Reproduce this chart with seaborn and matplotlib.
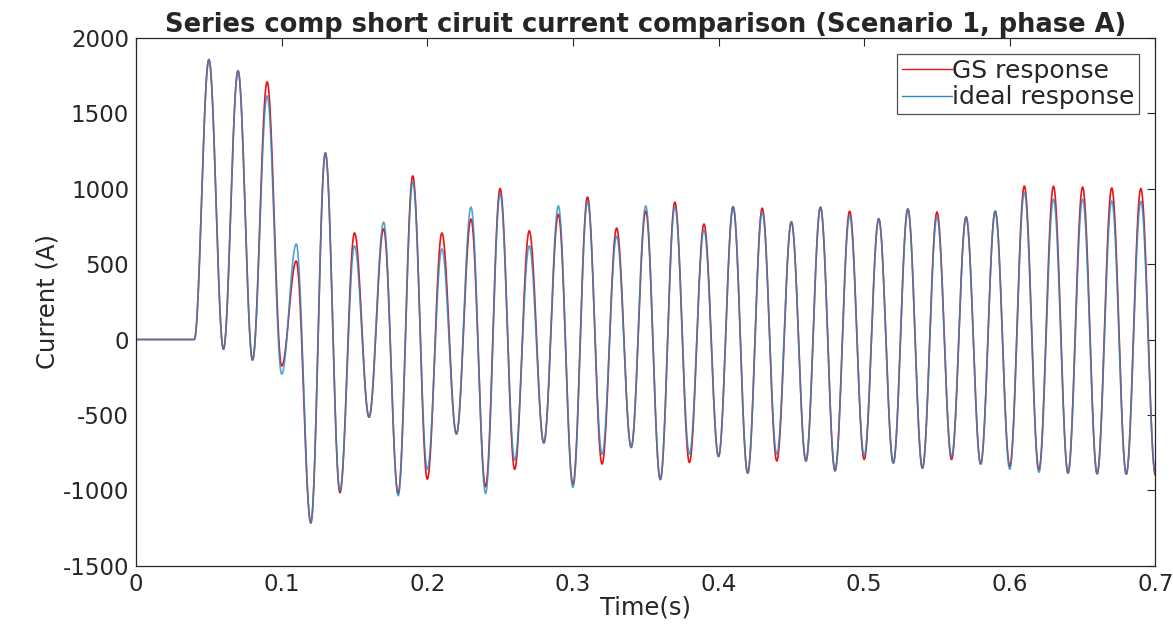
import numpy as np
import pandas as pd
import matplotlib
matplotlib.use('Agg')
import matplotlib.pyplot as plt
import seaborn as sns

# extrema of the waveform (one every half cycle, 50 Hz)
t_ext = [0.04, 0.05, 0.06, 0.07, 0.08, 0.09, 0.10, 0.11, 0.12, 0.13, 0.14,
         0.15, 0.16, 0.17, 0.18, 0.19, 0.20, 0.21, 0.22, 0.23, 0.24, 0.25,
         0.26, 0.27, 0.28, 0.29, 0.30, 0.31, 0.32, 0.33, 0.34, 0.35, 0.36,
         0.37, 0.38, 0.39, 0.40, 0.41, 0.42, 0.43, 0.44, 0.45, 0.46, 0.47,
         0.48, 0.49, 0.50, 0.51, 0.52, 0.53, 0.54, 0.55, 0.56, 0.57, 0.58,
         0.59, 0.60, 0.61, 0.62, 0.63, 0.64, 0.65, 0.66, 0.67, 0.68, 0.69, 0.70]

gs_ext = [0, 1855, -65, 1780, -136, 1707, -175, 520, -1215, 1236, -1015,
          706, -515, 733, -1020, 1084, -925, 706, -626, 798, -975, 1000,
          -860, 720, -685, 830, -960, 944, -825, 738, -715, 850, -928,
          910, -815, 765, -775, 880, -885, 870, -805, 780, -805, 877,
          -870, 850, -795, 800, -818, 865, -853, 845, -795, 812, -825,
          850, -840, 1017, -865, 1015, -885, 1010, -890, 1004, -892, 1000, -900]

ideal_ext = [0, 1855, -65, 1780, -136, 1614, -229, 633, -1215, 1236, -1000,
             620, -515, 778, -1035, 1044, -860, 600, -626, 877, -1020, 965,
             -800, 620, -685, 885, -980, 915, -760, 685, -715, 885, -928,
             880, -760, 725, -775, 880, -885, 845, -760, 780, -805, 877,
             -870, 820, -770, 800, -818, 865, -853, 812, -775, 812, -825,
             850, -860, 975, -880, 930, -885, 930, -890, 918, -892, 915, -885]

legend_labels = ['GS response', 'ideal response']
colors = ['#e8141a', '#2b8cc4']


def waveform(t_pts, y_pts, n=60):
    # half-cosine between successive extrema, flat zero before the fault
    ts = [np.linspace(0, t_pts[0], 10)]
    ys = [np.zeros(10)]
    for i in range(len(t_pts) - 1):
        s = np.linspace(0, 1, n)[1:]
        ts.append(t_pts[i] + (t_pts[i + 1] - t_pts[i]) * s)
        ys.append(y_pts[i] + (y_pts[i + 1] - y_pts[i]) * (1 - np.cos(np.pi * s)) / 2)
    return np.concatenate(ts), np.concatenate(ys)


frames = []
for lab, vals in zip(legend_labels, [gs_ext, ideal_ext]):
    t, y = waveform(t_ext, vals)
    frames.append(pd.DataFrame({'Time': t, 'Current': y, 'series': lab}))
df = pd.concat(frames, ignore_index=True)

sns.set_style('white')
plt.rcParams['font.family'] = ['DejaVu Sans']
plt.rcParams['axes.unicode_minus'] = False

fig = plt.figure(figsize=(11.73, 6.38), dpi=100)
ax = fig.add_axes([0.116, 0.113, 0.869, 0.828])

sns.lineplot(data=df[df['series'] == legend_labels[0]], x='Time', y='Current',
             color=colors[0], lw=1.2, estimator=None, sort=False, ax=ax,
             label=legend_labels[0])
sns.lineplot(data=df[df['series'] == legend_labels[1]], x='Time', y='Current',
             color=colors[1], lw=1.2, alpha=0.8, estimator=None, sort=False, ax=ax,
             label=legend_labels[1])

ax.set_xlim(0, 0.7)
ax.set_ylim(-1500, 2000)
ax.set_xticks(np.arange(0, 0.71, 0.1))
ax.set_xticklabels(['0', '0.1', '0.2', '0.3', '0.4', '0.5', '0.6', '0.7'])
ax.set_yticks(np.arange(-1500, 2001, 500))
ax.tick_params(direction='in', top=True, right=True, labelsize=16.5, length=6,
               color='#262626', labelcolor='#262626', pad=5)
for sp in ax.spines.values():
    sp.set_color('#262626')
    sp.set_linewidth(0.9)

ax.set_title('Series comp short ciruit current comparison (Scenario 1, phase A)',
             fontsize=18.5, fontweight='bold', pad=4)
ax.set_xlabel('Time(s)', fontsize=17.5, color='#262626', labelpad=0)
ax.set_ylabel('Current (A)', fontsize=17.5, color='#262626', labelpad=2)

leg = ax.legend(loc='upper right', fontsize=18, frameon=True, fancybox=False,
                edgecolor='#262626', handlelength=2.0, handletextpad=0.0,
                borderpad=0.2, labelspacing=0.1, borderaxespad=0.65)
leg.get_frame().set_linewidth(0.9)
for h in leg.get_lines():
    h.set_alpha(1)
    h.set_linewidth(1)

fig.savefig('out.png', dpi=100)
